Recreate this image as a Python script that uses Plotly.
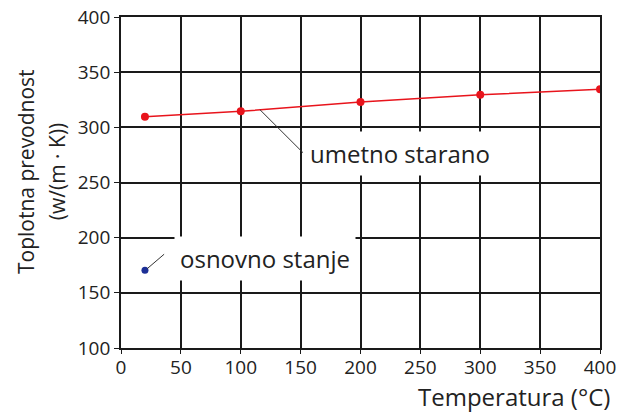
import plotly.graph_objects as go

temps_aged = [20, 100, 200, 300, 400]
k_aged = [309.5, 314.5, 323, 329.5, 334.5]
temps_base = [20]
k_base = [170.5]
x_ticks = [0, 50, 100, 150, 200, 250, 300, 350, 400]
y_ticks = [100, 150, 200, 250, 300, 350, 400]

FONT = "Open Sans, Noto Sans, DejaVu Sans"
GRID = "#1a1a1a"
TXT = "#222"

fig = go.Figure()
fig.add_trace(go.Scatter(x=temps_aged, y=k_aged, mode="lines+markers",
                         line=dict(color="#e8141c", width=1.5),
                         marker=dict(color="#e8141c", size=8), showlegend=False))
fig.add_trace(go.Scatter(x=temps_base, y=k_base, mode="markers",
                         marker=dict(color="#1c2f96", size=7), showlegend=False))

axis_common = dict(showgrid=True, gridcolor=GRID, gridwidth=1.8,
                   showline=True, linecolor=GRID, linewidth=1.8, mirror=True,
                   ticks="outside", tickcolor=GRID, automargin=False,
                   tickfont=dict(size=19, family=FONT, color=TXT), zeroline=False)

fig.update_layout(
    width=627, height=415,
    margin=dict(l=121, r=27, t=17, b=67, autoexpand=False),
    paper_bgcolor="white", plot_bgcolor="white",
    font=dict(family=FONT, color=TXT),
    xaxis=dict(range=[0, 400], tickvals=x_ticks, ticklen=4, ticklabelstandoff=-3, **axis_common),
    yaxis=dict(range=[100, 400], tickvals=y_ticks, ticklen=5, **axis_common),
)

fig.add_annotation(x=1.025, y=-0.09, xref="paper", yref="paper", xanchor="right", yanchor="top",
                   text="Temperatura (°C)", showarrow=False,
                   font=dict(size=24, family=FONT, color=TXT))
fig.add_annotation(x=-0.198, y=0.532, xref="paper", yref="paper", xanchor="center", yanchor="middle",
                   text="Toplotna prevodnost", textangle=-90, showarrow=False,
                   font=dict(size=21, family=FONT, color=TXT))
fig.add_annotation(x=-0.133, y=0.532, xref="paper", yref="paper", xanchor="center", yanchor="middle",
                   text="(w/(m · K))", textangle=-90, showarrow=False,
                   font=dict(size=21, family=FONT, color=TXT))

fig.add_annotation(x=233, y=276, xref="x", yref="y", text="umetno starano", showarrow=False,
                   bgcolor="white", borderpad=5, font=dict(size=24, family=FONT, color=TXT))
fig.add_annotation(x=120, y=181.5, xref="x", yref="y", text="osnovno stanje", showarrow=False,
                   bgcolor="white", borderpad=5, font=dict(size=24, family=FONT, color=TXT))

fig.add_shape(type="line", x0=116, y0=316, x1=152, y1=277, xref="x", yref="y",
              line=dict(color="#333", width=1), layer="above")
fig.add_shape(type="line", x0=22, y0=172, x1=36, y1=185, xref="x", yref="y",
              line=dict(color="#333", width=1), layer="above")

fig.write_html("out.html", config={"displayModeBar": False},
               post_script="document.body.style.margin='0';")
